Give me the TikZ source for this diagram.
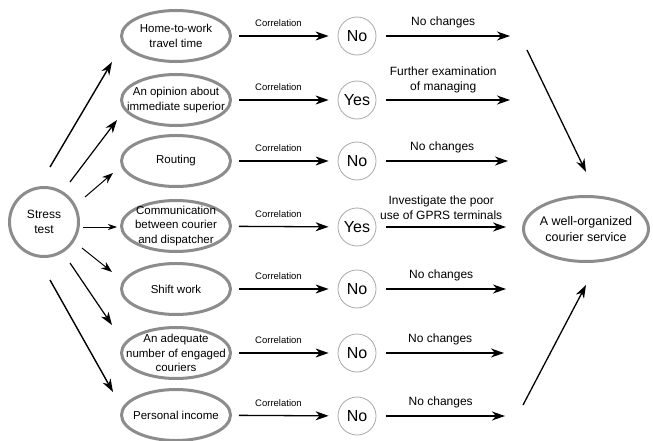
\documentclass[tikz,border=0pt]{standalone}
\usepackage{fontspec}
\setmainfont{Liberation Sans}
\usetikzlibrary{shapes.geometric,arrows.meta}
\definecolor{ovalgray}{HTML}{8C8C8C}
\definecolor{circgray}{HTML}{A8A8A8}
\begin{document}
\begin{tikzpicture}[x=1pt,y=-1pt,
 oval/.style={ellipse,draw=ovalgray,line width=3pt,minimum width=109pt,minimum height=51pt,inner xsep=-16pt,inner ysep=-8pt,align=center,font=\fontsize{11.5}{14.5}\selectfont},
 ans/.style={circle,draw=circgray,line width=0.8pt,minimum size=38pt,inner sep=0pt,font=\fontsize{16}{18}\selectfont},
 arr/.style={-{Stealth[length=13pt,width=9pt,inset=4pt]},line width=1.3pt},
 lbl/.style={font=\fontsize{9.5}{11}\selectfont},
 outl/.style={font=\fontsize{12}{15}\selectfont,align=center}]
\useasboundingbox (0,0) rectangle (653,441);

% start node
\node[circle,draw=ovalgray,line width=3pt,minimum size=69pt,inner sep=0pt,align=center,font=\fontsize{12}{15}\selectfont] (st) at (44,222) {Stress\\test};

% factor ellipses
\node[oval] (e1) at (176,36) {Home-to-work\\travel time};
\node[oval] (e2) at (176,100) {An opinion about\\immediate superior};
\node[oval] (e3) at (176,161) {Routing};
\node[oval] (e4) at (176,226) {Communication\\between courier\\and dispatcher};
\node[oval] (e5) at (176,289) {Shift work};
\node[oval] (e6) at (176,353) {An adequate\\number of engaged\\couriers};
\node[oval] (e7) at (176,415) {Personal income};

% answers
\node[ans] (a1) at (357,36) {No};
\node[ans] (a2) at (357,100) {Yes};
\node[ans] (a3) at (357,161) {No};
\node[ans] (a4) at (357,227) {Yes};
\node[ans] (a5) at (357,289) {No};
\node[ans] (a6) at (357,353) {No};
\node[ans] (a7) at (357,416) {No};

% final
\node[ellipse,draw=ovalgray,line width=3pt,minimum width=125pt,minimum height=65pt,inner xsep=-10pt,inner ysep=-4pt,align=center,font=\fontsize{12.5}{16}\selectfont] (fin) at (586,229) {A well-organized\\courier service};

% fan coordinates
\coordinate (s1) at (50,167);  \coordinate (t1) at (112,62);
\coordinate (s2) at (70,182);  \coordinate (t2) at (117,120);
\coordinate (s3) at (85,197);  \coordinate (t3) at (113,173);
\coordinate (s4) at (83,227);  \coordinate (t4) at (117,227);
\coordinate (s5) at (82,248);  \coordinate (t5) at (112,272);
\coordinate (s6) at (70,263);  \coordinate (t6) at (112,325);
\coordinate (s7) at (50,280);  \coordinate (t7) at (113,392);

\draw[arr,line width=1.4pt] (s1) -- (t1);
\draw[arr,line width=1.2pt] (s2) -- (t2);
\draw[arr,line width=1pt,-{Stealth[length=11pt,width=8pt,inset=3.5pt]}] (s3) -- (t3);
\draw[arr,line width=0.7pt,-{Stealth[length=9pt,width=6pt,inset=3pt]}] (s4) -- (t4);
\draw[arr,line width=1pt,-{Stealth[length=11pt,width=8pt,inset=3.5pt]}] (s5) -- (t5);
\draw[arr,line width=1.2pt] (s6) -- (t6);
\draw[arr,line width=1.4pt] (s7) -- (t7);

% correlation arrows
\foreach \i in {1,...,7}{
  \draw[arr,shorten <=7pt,shorten >=9pt] (e\i) -- (a\i)
    node[lbl,pos=0.44,above=5pt]{Correlation};
}

% right arrows
\coordinate (r1) at (510,36);
\coordinate (r2) at (510,100);
\coordinate (r3) at (508,161);
\coordinate (r4) at (506,227);
\coordinate (r5) at (506,289);
\coordinate (r6) at (504,353);
\coordinate (r7) at (505,416);

\draw[arr,shorten <=10pt] (a1) -- (r1) node[outl,midway,above=4pt]{No changes};
\draw[arr,shorten <=10pt] (a2) -- (r2) node[outl,midway,above=3pt]{Further examination\\of managing};
\draw[arr,shorten <=10pt] (a3) -- (r3) node[outl,midway,above=4pt]{No changes};
\draw[arr,shorten <=10pt] (a4) -- (r4) node[outl,midway,above=3pt]{Investigate the poor\\use of GPRS terminals};
\draw[arr,shorten <=10pt] (a5) -- (r5) node[outl,midway,above=4pt]{No changes};
\draw[arr,shorten <=10pt] (a6) -- (r6) node[outl,midway,above=4pt]{No changes};
\draw[arr,shorten <=10pt] (a7) -- (r7) node[outl,midway,above=4pt]{No changes};

% to final
\coordinate (f1) at (527,50);
\coordinate (f2) at (523,405);
\draw[arr] (f1) -- ([yshift=23pt]fin.north);
\draw[arr] (f2) -- ([yshift=-22pt]fin.south);
\end{tikzpicture}
\end{document}
